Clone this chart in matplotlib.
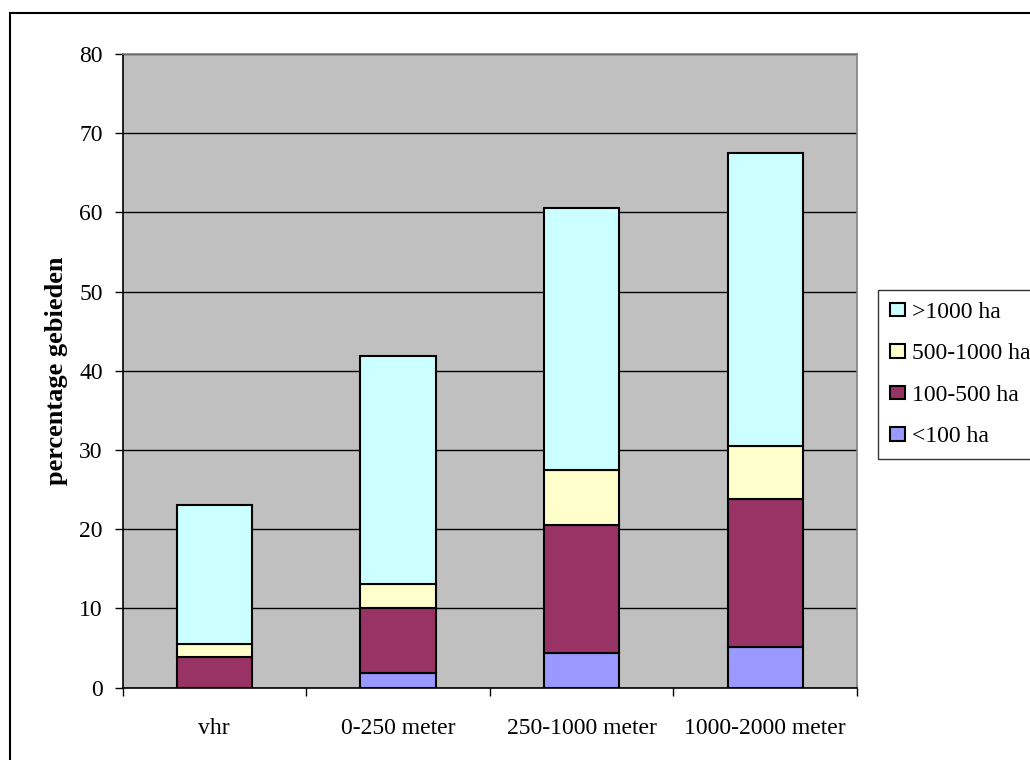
import matplotlib
matplotlib.use('Agg')
import matplotlib.pyplot as plt
from matplotlib.patches import Rectangle
import numpy as np

plt.rcParams['font.family'] = ['Liberation Serif', 'DejaVu Serif']

categories = ['vhr', '0-250 meter', '250-1000 meter', '1000-2000 meter']
lt_100 = [0.0, 1.85, 4.4, 5.1]
ha_100_500 = [3.8, 8.2, 16.1, 18.7]
ha_500_1000 = [1.7, 3.0, 7.0, 6.7]
gt_1000 = [17.5, 28.8, 33.0, 37.0]

series = [('<100 ha', lt_100, '#9999FF'),
          ('100-500 ha', ha_100_500, '#993366'),
          ('500-1000 ha', ha_500_1000, '#FFFFCC'),
          ('>1000 ha', gt_1000, '#CCFFFF')]

fig = plt.figure(figsize=(10.3, 7.6), dpi=100)
ax = fig.add_axes([122.5 / 1030, 72.5 / 760, 734.5 / 1030, 633.5 / 760])
ax.set_facecolor('#C0C0C0')

x = np.arange(len(categories))
bottom = np.zeros(len(categories))
handles = []
for name, vals, col in series:
    b = ax.bar(x, vals, width=0.41, bottom=bottom, color=col,
               edgecolor='black', linewidth=1.5, label=name, zorder=3)
    bottom += np.array(vals)
    handles.append(b)

ax.set_xlim(-0.5, len(categories) - 0.5)
ax.set_ylim(0, 80)
ax.set_yticks(np.arange(0, 81, 10))
ax.yaxis.grid(True, color='black', linewidth=1.0, zorder=1)
ax.set_axisbelow(True)

ax.set_xticks(x)
ax.set_xticklabels(categories, fontsize=17)
ax.set_xticks(np.arange(-0.5, len(categories)), minor=True)
ax.tick_params(axis='x', which='major', length=0, pad=22)
ax.tick_params(axis='x', which='minor', length=5.5, width=1, direction='out')
ax.tick_params(axis='y', length=5.8, width=1, pad=8.5, labelsize=17)

ax.spines['left'].set_linewidth(1.2)
ax.spines['bottom'].set_linewidth(1.2)
for s in ['top', 'right']:
    ax.spines[s].set_color('#808080')
    ax.spines[s].set_linewidth(1.2)

ax.set_ylabel('percentage gebieden', fontsize=19, fontweight='bold', labelpad=8)

leg = fig.legend(handles[::-1], [s[0] for s in series][::-1],
                 loc='upper left', bbox_to_anchor=(878 / 1030, 1 - 290 / 760),
                 fontsize=17, frameon=True, fancybox=False, shadow=False,
                 handlelength=0.64, handleheight=0.52, handletextpad=0.28,
                 labelspacing=0.87, borderpad=0.5, borderaxespad=0)
leg.get_frame().set_edgecolor('black')
leg.get_frame().set_linewidth(1.0)

# outer chart border
fig.patches.append(Rectangle((10 / 1030, -0.1), 2, 1 - 13 / 760 + 0.1,
                             transform=fig.transFigure, fill=False,
                             edgecolor='black', linewidth=1.5))

fig.savefig('out.png', dpi=100)
